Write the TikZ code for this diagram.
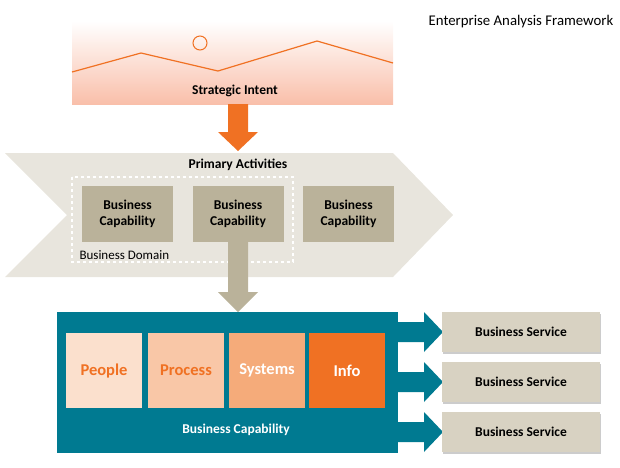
\documentclass[tikz,border=0pt]{standalone}
\usepackage{fontspec}
\setmainfont{Carlito}
\usetikzlibrary{positioning,shadows}
\definecolor{salmon}{HTML}{F9BFAA}
\definecolor{orangeline}{HTML}{F07123}
\definecolor{chevron}{HTML}{E8E5DD}
\definecolor{capfill}{HTML}{BAB29A}
\definecolor{teal}{HTML}{007A91}
\definecolor{servfill}{HTML}{D8D2C2}
\definecolor{peoplefill}{HTML}{FBE0CD}
\definecolor{processfill}{HTML}{F9C7A7}
\definecolor{systemsfill}{HTML}{F5AB7A}

\begin{document}
\begin{tikzpicture}[
        x=1pt, y=-1pt,
        capability/.style={
                rectangle,
                fill=capfill,
                minimum width=91pt,
                minimum height=56pt,
                align=center,
                font=\fontsize{13.5}{16}\selectfont\bfseries
            },
        part/.style={
                rectangle,
                minimum width=76pt,
                minimum height=75pt,
                font=\fontsize{16.5}{18}\selectfont\bfseries
            },
        service/.style={
                rectangle,
                fill=servfill,
                minimum width=158pt,
                minimum height=40pt,
                drop shadow={shadow xshift=1pt,shadow yshift=-1.5pt,opacity=0.4},
                font=\fontsize{13.5}{16}\selectfont\bfseries
            },
        heading/.style = {font=\fontsize{13.5}{16}\selectfont\bfseries}
    ]
    \useasboundingbox (0,0) rectangle (620,467);

    % strategic intent
    \shade[top color=white, bottom color=salmon] (72,21) rectangle (393,104);
    \draw[orangeline, line width=1.2pt] (72,72) -- (141,53) -- (218,71) -- (317,41) -- (393,63);
    \draw[orangeline, line width=1pt] (200,43) circle (7);
    \node[heading] (intent) at (235,91) {Strategic Intent};
    \node[font=\fontsize{14.8}{17}\selectfont] (title) at (521,22) {Enterprise Analysis Framework};

    \fill[orangeline] (228,104) -- (248,104) -- (248,132) -- (258,132) -- (238,151)
        -- (218,132) -- (228,132) -- cycle;

    % primary activities
    \fill[chevron] (5,153) -- (393,153) -- (453,215) -- (393,277) -- (5,277) -- (67,215) -- cycle;
    \node[heading] (primary) at (238,165) {Primary Activities};
    \draw[white, dashed, line width=1.2pt] (72,177) rectangle (293,262);
    \node[anchor=west, font=\fontsize{13}{15}\selectfont] (domain) at (76,255) {Business Domain};
    \node[capability] (cap1) at (127.5,214) {Business\\Capability};
    \node[capability] (cap2) at (238,214) {Business\\Capability};
    \node[capability] (cap3) at (348.5,214) {Business\\Capability};

    \fill[capfill] (228,242) -- (248,242) -- (248,292) -- (258,292) -- (238,312)
        -- (218,292) -- (228,292) -- cycle;

    % business capability
    \fill[teal] (57,312) rectangle (398,453);
    \foreach \y in {332,382,432}
        \fill[teal] (397,\y-10) -- (424,\y-10) -- (424,\y-20) -- (443,\y)
            -- (424,\y+20) -- (424,\y+10) -- (397,\y+10) -- cycle;
    \node[part, fill=peoplefill, text=orangeline] (people)  at (104,370.5) {People};
    \node[part, fill=processfill, text=orangeline] (process) at (186,370.5) {Process};
    \node[part, fill=systemsfill, text=white] (systems) at (267,370.5) {Systems};
    \node[part, fill=orangeline, text=white] (info) at (347,370.5) {Info};
    \node[heading, text=white] (capability) at (236,430) {Business Capability};

    \node[service] (service1) at (521,332) {Business Service};
    \node[service] (service2) at (521,382) {Business Service};
    \node[service] (service3) at (521,432) {Business Service};
\end{tikzpicture}
\end{document}
